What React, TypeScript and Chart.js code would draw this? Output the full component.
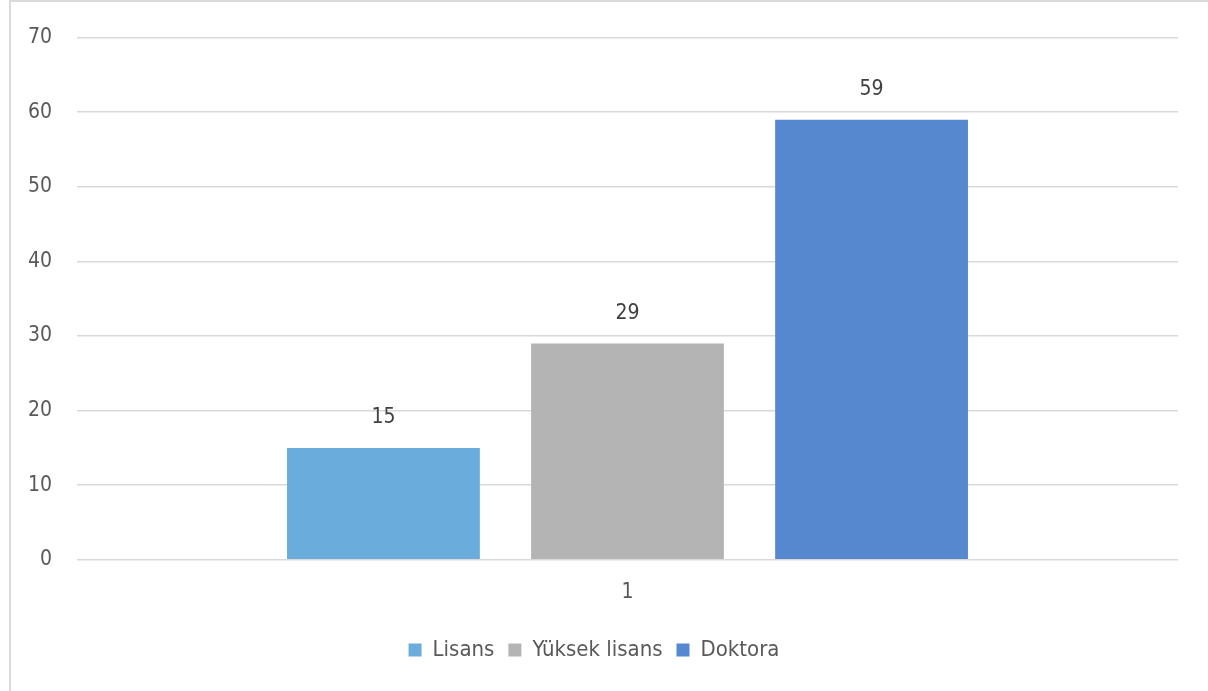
import React, { useEffect, useRef } from "react";
import { Chart, registerables } from "chart.js";

Chart.register(...registerables);

const categories = ["1"];
const seriesNames = ["Lisans", "Yüksek lisans", "Doktora"];
const lisansValues = [15];
const yuksekLisansValues = [29];
const doktoraValues = [59];
const yTicks = [0, 10, 20, 30, 40, 50, 60, 70];

const colors = ["#6AACDC", "#B4B4B4", "#5588CE"];
const FONT = "'DejaVu Sans Condensed', 'DejaVu Sans', sans-serif";
const FS = 21;
const LFS = 22;

const valueLabels = {
  id: "valueLabels",
  afterDatasetsDraw(chart: any) {
    const ctx = chart.ctx;
    ctx.save();
    ctx.font = `${FS}px ${FONT}`;
    ctx.fillStyle = "#404040";
    ctx.textAlign = "center";
    ctx.textBaseline = "middle";
    chart.data.datasets.forEach((ds: any, i: number) => {
      const meta = chart.getDatasetMeta(i);
      meta.data.forEach((bar: any, j: number) => {
        ctx.fillText(String(ds.data[j]), bar.x, bar.y - 30);
      });
    });
    ctx.restore();
  },
};

export default function App() {
  const ref = useRef<HTMLCanvasElement>(null);
  useEffect(() => {
    if (!ref.current) return;
    const chart = new Chart(ref.current, {
      type: "bar",
      data: {
        labels: categories,
        datasets: [
          { label: seriesNames[0], data: lisansValues, backgroundColor: colors[0] },
          { label: seriesNames[1], data: yuksekLisansValues, backgroundColor: colors[1] },
          { label: seriesNames[2], data: doktoraValues, backgroundColor: colors[2] },
        ],
      },
      options: {
        animation: false,
        responsive: false,
        maintainAspectRatio: false,
        datasets: { bar: { categoryPercentage: 0.665, barPercentage: 0.79 } },
        layout: { padding: { left: 10, right: 30, top: 25, bottom: 20 } },
        scales: {
          x: {
            grid: { display: false },
            border: { display: false },
            ticks: { font: { family: FONT, size: FS }, color: "#595959", padding: 12 },
            afterFit: (scale: any) => {
              scale.height += 8;
            },
          },
          y: {
            min: 0,
            max: 70,
            afterBuildTicks: (scale: any) => {
              scale.ticks = yTicks.map((v) => ({ value: v }));
            },
            afterFit: (scale: any) => {
              scale.width = 67;
            },
            grid: { color: "#D9D9D9", lineWidth: 1.5, drawTicks: false },
            border: { display: false },
            ticks: { font: { family: FONT, size: FS }, color: "#595959", padding: 25 },
          },
        },
        plugins: {
          tooltip: { enabled: false },
          legend: {
            position: "bottom",
            labels: {
              font: { family: FONT, size: LFS },
              color: "#595959",
              boxWidth: 13,
              boxHeight: 13,
              padding: 14,
            },
          },
        },
      },
      plugins: [valueLabels],
    });
    return () => chart.destroy();
  }, []);
  return (
    <div style={{ position: "fixed", left: 0, top: 0, width: 1208, height: 691, background: "#fff" }}>
      <div
        style={{
          position: "absolute",
          left: 9,
          top: 0,
          width: 1300,
          height: 800,
          border: "2px solid #D9D9D9",
          boxSizing: "border-box",
        }}
      />
      <canvas ref={ref} width={1208} height={691} style={{ position: "absolute", left: 0, top: 0 }} />
    </div>
  );
}
